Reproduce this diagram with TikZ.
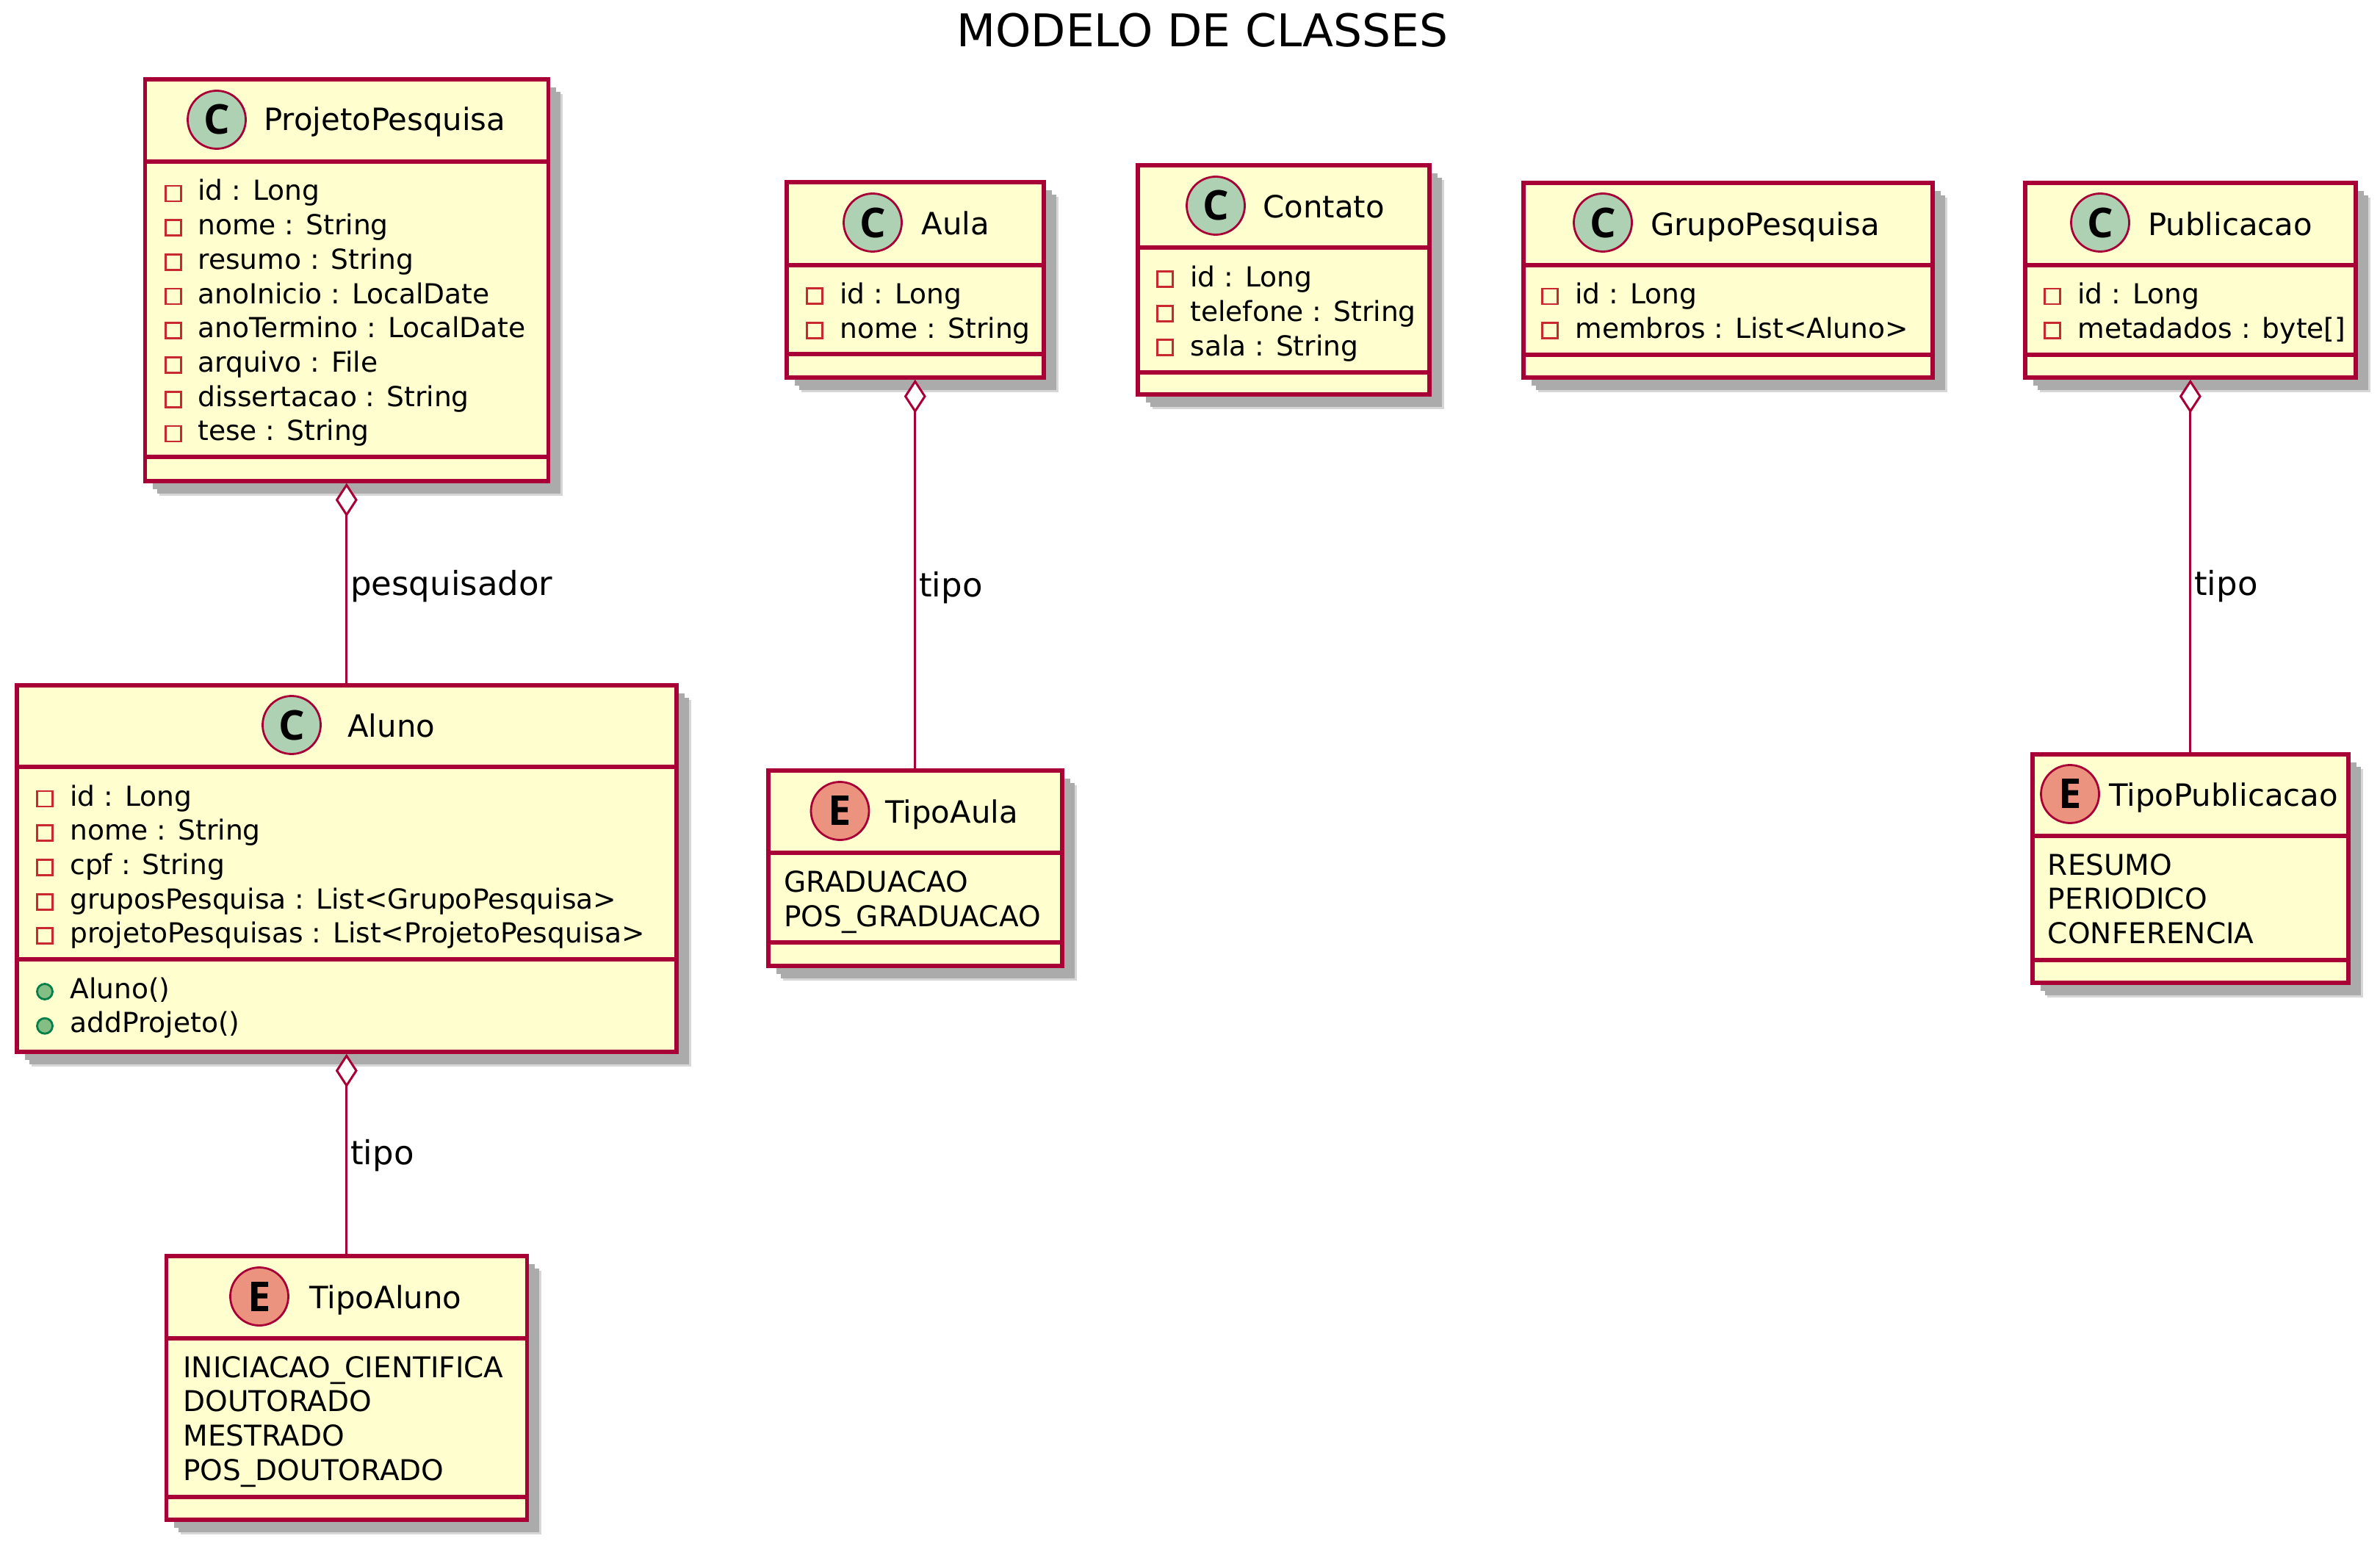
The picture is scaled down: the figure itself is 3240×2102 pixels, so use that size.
\documentclass[tikz,border=0pt]{standalone}
\usepackage{fontspec}
\setmainfont{DejaVu Sans}
\newfontfamily\simbfont{Open Sans}
\usepackage{xcolor}
\usepackage{tikz}
\usetikzlibrary{shapes,positioning,shadows,arrows.meta}
\definecolor{borda}{HTML}{A80036}
\definecolor{fundo}{HTML}{FEFECE}
\definecolor{verdec}{HTML}{ADD1B2}
\definecolor{salmao}{HTML}{EB937F}
\definecolor{privado}{HTML}{C82930}
\definecolor{publico}{HTML}{038048}
\definecolor{pubfill}{HTML}{84BE84}
\tikzset{
  classe/.style args={#1x#2}{rectangle,draw=borda,fill=fundo,line width=2.8pt,anchor=north west,inner sep=0pt,
    minimum width=#1*0.5pt,minimum height=#2*0.5pt,
    drop shadow={shadow xshift=10pt,shadow yshift=-10pt,fill=black!16,opacity=1},
    drop shadow={shadow xshift=8.5pt,shadow yshift=-8.5pt,fill=black!33,opacity=1},
    drop shadow={shadow xshift=5.5pt,shadow yshift=-5.5pt,fill=black!33,opacity=1}},
  divisor/.style={draw=borda,line width=2.6pt},
  simb/.style={circle,draw=borda,line width=1.4pt,minimum size=39.5pt,inner sep=0pt,font=\fontsize{28}{28}\simbfont\bfseries},
  nomec/.style={anchor=base west,inner sep=0pt,font=\fontsize{20.9}{24}\selectfont},
  campo/.style={anchor=base west,inner sep=0pt,font=\fontsize{18.8}{22}\selectfont},
  enumv/.style={anchor=base west,inner sep=0pt,font=\fontsize{19.5}{22}\selectfont},
  priv/.style={rectangle,draw=privado,line width=1.4pt,minimum size=10.5pt,inner sep=0pt},
  publ/.style={circle,draw=publico,fill=pubfill,line width=1.4pt,minimum size=10.5pt,inner sep=0pt},
  assoc/.style={draw=borda,line width=1.5pt,{Diamond[open,fill=white,length=23pt,width=15pt]}-},
  rotulo/.style={right,inner sep=2pt,font=\fontsize{22.5}{24}\selectfont},
}
\begin{document}
\begin{tikzpicture}[x=0.5pt,y=-0.5pt]
    \useasboundingbox (0,0) rectangle (3240,2102);
    \node[anchor=base,inner sep=0pt,font=\fontsize{30.7}{32}\selectfont] (titulo) at (1637,64) {MODELO DE CLASSES};

    % ProjetoPesquisa
    \node[classe=549x547] (projeto) at (194.5,105) {};
    \draw[divisor] (projeto.west |- 0,220) -- (projeto.east |- 0,220);
    \draw[divisor] (projeto.west |- 0,622) -- (projeto.east |- 0,622);
    \node[simb,fill=verdec] (projetoC) at (295,163) {C};
    \node[nomec] (projetoN) at (359,178) {ProjetoPesquisa};
    \foreach \t [count=\i from 0] in {id : Long,nome : String,resumo : String,anoInicio : LocalDate,anoTermino : LocalDate,arquivo : File,dissertacao : String,tese : String}{
        \node[priv] (projetoI\i) at (236,263.5+46.7*\i) {};
        \node[campo] (projetoF\i) at (269,273+46.7*\i) {\t};
    }

    % Aluno
    \node[classe=898x499] (aluno) at (20,930) {};
    \draw[divisor] (aluno.west |- 0,1044) -- (aluno.east |- 0,1044);
    \draw[divisor] (aluno.west |- 0,1306) -- (aluno.east |- 0,1306);
    \node[simb,fill=verdec] (alunoC) at (397,987) {C};
    \node[nomec] (alunoN) at (473,1003) {Aluno};
    \foreach \t [count=\i from 0] in {id : Long,nome : String,cpf : String,gruposPesquisa : List<GrupoPesquisa>,projetoPesquisas : List<ProjetoPesquisa>}{
        \node[priv] (alunoI\i) at (61,1087.5+46.7*\i) {};
        \node[campo] (alunoF\i) at (95,1097+46.7*\i) {\t};
    }
    \foreach \t [count=\i from 0] in {Aluno(),addProjeto()}{
        \node[publ] (alunoP\i) at (61,1350+46.7*\i) {};
        \node[campo] (alunoM\i) at (95,1359+46.7*\i) {\t};
    }

    % TipoAluno
    \node[classe=491x359] (tipoAluno) at (223.5,1707) {};
    \draw[divisor] (tipoAluno.west |- 0,1822) -- (tipoAluno.east |- 0,1822);
    \draw[divisor] (tipoAluno.west |- 0,2038) -- (tipoAluno.east |- 0,2038);
    \node[simb,fill=salmao] (tipoAlunoE) at (353,1765) {E};
    \node[nomec] (tipoAlunoN) at (421,1781) {TipoAluno};
    \foreach \t [count=\i from 0] in {INICIACAO\_CIENTIFICA,DOUTORADO,MESTRADO,POS\_DOUTORADO}{
        \node[enumv] (tipoAlunoF\i) at (249,1875+46.7*\i) {\t};
    }

    % Aula
    \node[classe=350x266] (aula) at (1068,245) {};
    \draw[divisor] (aula.west |- 0,361) -- (aula.east |- 0,361);
    \draw[divisor] (aula.west |- 0,482) -- (aula.east |- 0,482);
    \node[simb,fill=verdec] (aulaC) at (1188,303) {C};
    \node[nomec] (aulaN) at (1254,320) {Aula};
    \foreach \t [count=\i from 0] in {id : Long,nome : String}{
        \node[priv] (aulaI\i) at (1109,403+46.7*\i) {};
        \node[campo] (aulaF\i) at (1143,414+46.7*\i) {\t};
    }

    % TipoAula
    \node[classe=400x266] (tipoAula) at (1043,1046) {};
    \draw[divisor] (tipoAula.west |- 0,1161) -- (tipoAula.east |- 0,1161);
    \draw[divisor] (tipoAula.west |- 0,1283) -- (tipoAula.east |- 0,1283);
    \node[simb,fill=salmao] (tipoAulaE) at (1143.5,1104) {E};
    \node[nomec] (tipoAulaN) at (1205,1120) {TipoAula};
    \foreach \t [count=\i from 0] in {GRADUACAO,POS\_GRADUACAO}{
        \node[enumv] (tipoAulaF\i) at (1067,1214+47*\i) {\t};
    }

    % Contato
    \node[classe=397x312] (contato) at (1546,222) {};
    \draw[divisor] (contato.west |- 0,337) -- (contato.east |- 0,337);
    \draw[divisor] (contato.west |- 0,507) -- (contato.east |- 0,507);
    \node[simb,fill=verdec] (contatoC) at (1655,280) {C};
    \node[nomec] (contatoN) at (1719,297) {Contato};
    \foreach \t [count=\i from 0] in {id : Long,telefone : String,sala : String}{
        \node[priv] (contatoI\i) at (1586,380+46.7*\i) {};
        \node[campo] (contatoF\i) at (1620,391+46.7*\i) {\t};
    }

    % GrupoPesquisa
    \node[classe=557x265] (grupo) at (2071,246) {};
    \draw[divisor] (grupo.west |- 0,361) -- (grupo.east |- 0,361);
    \draw[divisor] (grupo.west |- 0,483) -- (grupo.east |- 0,483);
    \node[simb,fill=verdec] (grupoC) at (2182,303) {C};
    \node[nomec] (grupoN) at (2247,321) {GrupoPesquisa};
    \foreach \t [count=\i from 0] in {id : Long,membros : List<Aluno>}{
        \node[priv] (grupoI\i) at (2110,403.5+46.7*\i) {};
        \node[campo] (grupoF\i) at (2144,414+46.7*\i) {\t};
    }

    % Publicacao
    \node[classe=450x265] (publicacao) at (2754,246) {};
    \draw[divisor] (publicacao.west |- 0,361) -- (publicacao.east |- 0,361);
    \draw[divisor] (publicacao.west |- 0,483) -- (publicacao.east |- 0,483);
    \node[simb,fill=verdec] (publicacaoC) at (2859,303) {C};
    \node[nomec] (publicacaoN) at (2924,321) {Publicacao};
    \foreach \t [count=\i from 0] in {id : Long,metadados : byte[]}{
        \node[priv] (publicacaoI\i) at (2794,403.5+46.7*\i) {};
        \node[campo] (publicacaoF\i) at (2828,414+46.7*\i) {\t};
    }

    % TipoPublicacao
    \node[classe=430x311] (tipoPub) at (2764,1024) {};
    \draw[divisor] (tipoPub.west |- 0,1138) -- (tipoPub.east |- 0,1138);
    \draw[divisor] (tipoPub.west |- 0,1307) -- (tipoPub.east |- 0,1307);
    \node[simb,fill=salmao] (tipoPubE) at (2818,1081) {E};
    \node[nomec] (tipoPubN) at (2871,1097) {TipoPublicacao};
    \foreach \t [count=\i from 0] in {RESUMO,PERIODICO,CONFERENCIA}{
        \node[enumv] (tipoPubF\i) at (2787.5,1191+46.5*\i) {\t};
    }

    \draw[assoc] (projeto) -- node[rotulo,pos=.515] (relPesq) {pesquisador} (aluno);
    \draw[assoc] (aluno) -- node[rotulo,pos=.51] (relAluno) {tipo} (tipoAluno);
    \draw[assoc] (aula) -- node[rotulo,pos=.535] (relAula) {tipo} (tipoAula);
    \draw[assoc] (publicacao) -- node[rotulo,pos=.555] (relPub) {tipo} (tipoPub);
\end{tikzpicture}
\end{document}
